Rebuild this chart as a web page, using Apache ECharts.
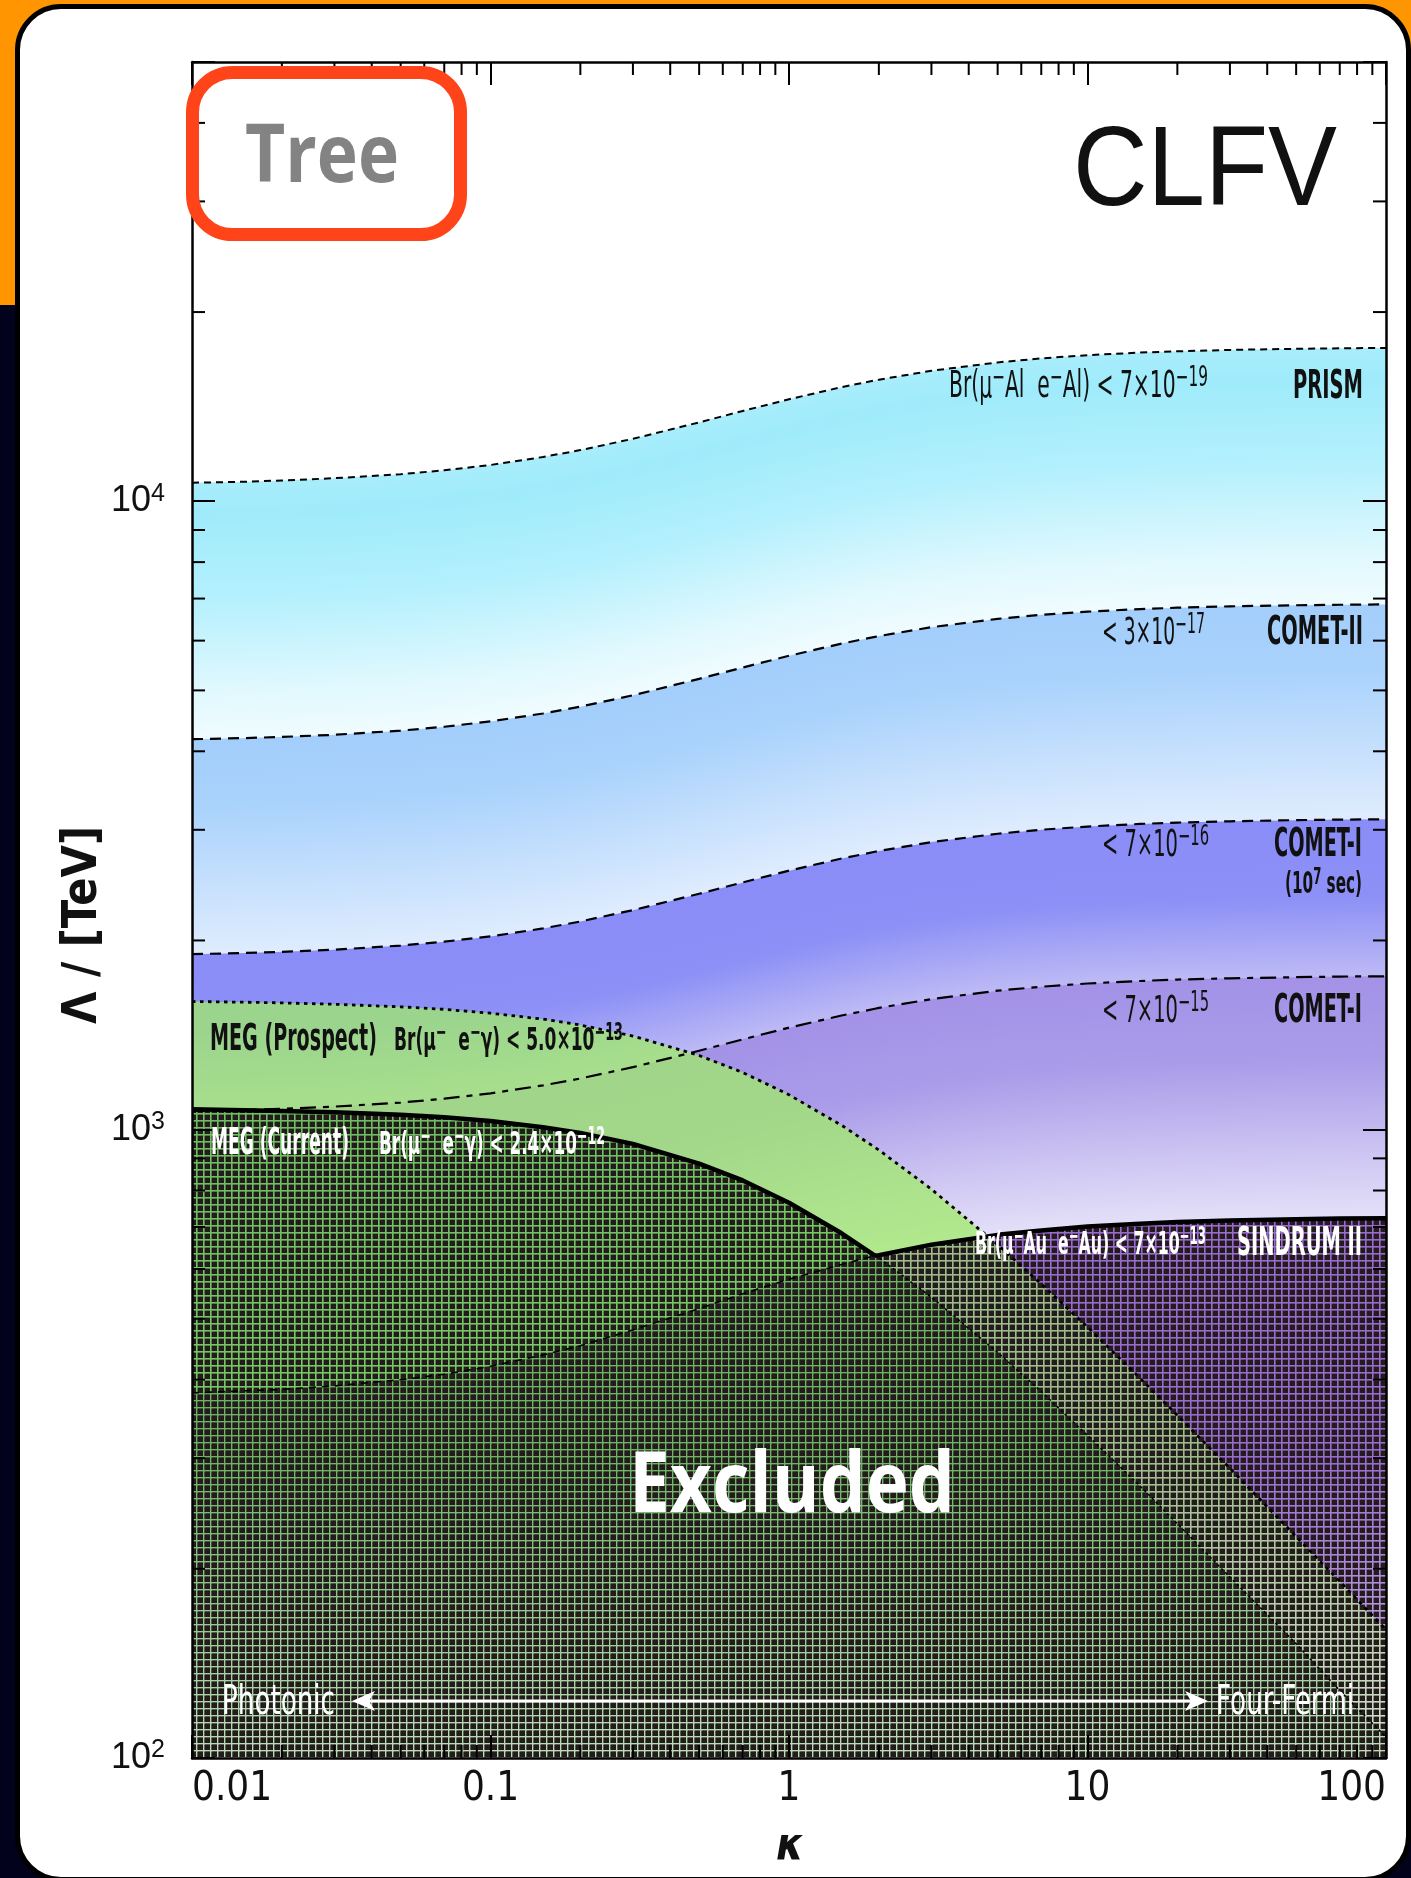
<!DOCTYPE html>
<html>
<head>
<meta charset="utf-8">
<script src="https://cdn.jsdelivr.net/npm/echarts@6/dist/echarts.min.js"></script>
<style>
html, body { margin: 0; padding: 0; }
body { width: 1411px; height: 1878px; position: relative; overflow: hidden; background: #03021c; }
#band { position: absolute; left: 0; top: 0; width: 1411px; height: 305px; background: #ff9500; }
#panel { position: absolute; left: 15px; top: 4px; width: 1396px; height: 1878px; box-sizing: border-box;
         background: #fff; border: 5px solid #000; border-radius: 46px; }
#chart { position: absolute; left: 0; top: 0; width: 1411px; height: 1878px; }
</style>
</head>
<body>
<div id="band"></div>
<div id="panel"></div>
<div id="chart"></div>
<script>
// kappa grid (ratio of four-fermion to photonic operators)
const kappa = [0.01, 0.015, 0.02, 0.03, 0.05, 0.07, 0.1, 0.15, 0.2, 0.3,
               0.5, 0.7, 1, 1.5, 1.94, 2, 3, 5, 7, 10,
               15, 20, 30, 50, 70, 100];

// Reach in Lambda [TeV] for each experiment along the kappa grid
const prismLimit = [10700, 10740, 10790, 10880, 11040, 11200, 11420, 11760, 12060, 12570,
                    13350, 13920, 14530, 15190, 15570, 15610, 16130, 16630, 16880, 17080,
                    17240, 17320, 17410, 17480, 17510, 17540];
const cometIILimit = [4181, 4198, 4216, 4249, 4314, 4376, 4463, 4594, 4711, 4911,
                      5216, 5437, 5676, 5935, 6084, 6101, 6303, 6499, 6595, 6672,
                      6736, 6769, 6803, 6831, 6843, 6852];
const cometI7Limit = [1902, 1910, 1918, 1933, 1963, 1991, 2030, 2090, 2144, 2235,
                      2373, 2474, 2583, 2700, 2768, 2776, 2868, 2957, 3001, 3036,
                      3065, 3080, 3095, 3108, 3114, 3118];
const cometILimit = [1070, 1075, 1079, 1088, 1104, 1120, 1142, 1176, 1206, 1257,
                     1335, 1392, 1453, 1519, 1557, 1562, 1613, 1664, 1688, 1708,
                     1724, 1733, 1741, 1748, 1752, 1754];
const sindrumLimit = [381, 384, 386, 391, 400, 408, 420, 438, 453, 480,
                      519, 548, 578, 610, 630, 631, 656, 680, 691, 701,
                      708, 713, 717, 720, 722, 723];
const megProspectLimit = [1599, 1595, 1591, 1583, 1568, 1554, 1532, 1499, 1467, 1409,
                          1312, 1233, 1136, 1016, 937, 928, 804, 656, 568, 485,
                          402, 351, 289, 225, 191, 160];
const megCurrentLimit = [1077, 1074, 1071, 1066, 1056, 1046, 1032, 1009, 988, 949,
                         883, 830, 765, 684, 630, 625, 541, 442, 383, 326,
                         271, 236, 194, 152, 128, 108];

// Axis ticks and labels
const xMajorTicks = [0.01, 0.1, 1, 10, 100];
const xTickLabels = ['0.01', '0.1', '1', '10', '100'];
const xMinorTicks = [0.02, 0.03, 0.04, 0.05, 0.06, 0.07, 0.08, 0.09,
                     0.2, 0.3, 0.4, 0.5, 0.6, 0.7, 0.8, 0.9,
                     2, 3, 4, 5, 6, 7, 8, 9,
                     20, 30, 40, 50, 60, 70, 80, 90];
const yMajorTicks = [100, 1000, 10000];
const yTickExponents = ['2', '3', '4'];
const yMinorTicks = [200, 300, 400, 500, 600, 700, 800, 900,
                     2000, 3000, 4000, 5000, 6000, 7000, 8000, 9000,
                     20000, 30000, 40000];

const X_MIN = 0.01, X_MAX = 100, Y_MIN = 100, Y_MAX = 50000;
const FADE_TOP = 300;               // excluded hatch lightens below this Lambda
const KINK = kappa.indexOf(1.94);   // where MEG (current) meets SINDRUM II

// ---------- font helpers ----------
const mctx = document.createElement('canvas').getContext('2d');
function hasFont(name) {
  const s = '0.01 abcdefghijklmnopqrstuvwxyz ABCDEFG';
  mctx.font = '40px monospace';
  const a = mctx.measureText(s).width;
  mctx.font = '40px "' + name + '", monospace';
  const b = mctx.measureText(s).width;
  return Math.abs(a - b) > 0.5;
}
const hasNarrow = hasFont('Liberation Sans Narrow');
const NARROW = hasNarrow ? '"Liberation Sans Narrow", Roboto, sans-serif'
                         : (hasFont('DejaVu Sans Condensed') ? '"DejaVu Sans Condensed", Roboto, sans-serif' : 'Roboto, sans-serif');
const HELV = '"Liberation Sans", Arial, Helvetica, sans-serif';
const WIDE = '"Open Sans", "Noto Sans", Roboto, sans-serif';

// Text with optional {s|...} superscripts, squeezed horizontally to a given width
function label(t, o) {
  const st = o.style || 'normal', wt = o.weight || 'normal', fam = o.family || NARROW;
  const font = st + ' ' + wt + ' ' + o.size + 'px ' + fam;
  const supSize = Math.round(o.size * 0.75);
  const supFont = st + ' ' + wt + ' ' + supSize + 'px ' + fam;
  let w = 0;
  const re = /\{s\|([^}]*)\}/g;
  let m, lastIdx = 0;
  while ((m = re.exec(t)) !== null) {
    mctx.font = font; w += mctx.measureText(t.slice(lastIdx, m.index)).width;
    mctx.font = supFont; w += mctx.measureText(m[1]).width;
    lastIdx = re.lastIndex;
  }
  mctx.font = font; w += mctx.measureText(t.slice(lastIdx)).width;
  const sx = o.width ? o.width / w : 1;
  const y = (o.base !== undefined) ? o.base - 0.29 * o.size : o.y;
  const fill = o.color || '#111';
  return {
    type: 'text', x: o.x, y: y, rotation: o.rotation || 0, scaleX: sx, z: 100, silent: true,
    style: {
      text: t, font: font, fontSize: o.size, fontFamily: fam, fontWeight: wt, fontStyle: st,
      fill: fill, align: o.align || 'left', verticalAlign: 'middle',
      lineHeight: Math.round(o.size * 1.25),
      rich: {
        s: {
          font: supFont, fontSize: supSize, fontFamily: fam, fontWeight: wt, fontStyle: st,
          fill: fill, verticalAlign: 'top', lineHeight: Math.round(supSize * 1.1)
        }
      }
    }
  };
}

// ---------- hatch pattern for excluded regions ----------
const hatch = document.createElement('canvas');
hatch.width = 7; hatch.height = 7;
(function () {
  const c = hatch.getContext('2d');
  c.fillStyle = '#241c1c';
  c.fillRect(1.6, 1.6, 5.4, 5.4);
})();

// ---------- series builders ----------
function pairs(vals) { return kappa.map((k, i) => [k, vals[i]]); }

function bandData(top, bottom) {
  const d = [];
  for (let i = 0; i < kappa.length - 1; i++) {
    d.push([kappa[i], top[i], bottom[i], kappa[i + 1], top[i + 1], bottom[i + 1]]);
  }
  return d;
}

// band between two curves, shaded across its thickness; filled down to the axis floor
function bandSeries(top, bottom, stops) {
  return {
    type: 'custom', silent: true, clip: true, z: 1,
    data: bandData(top, bottom),
    encode: { x: [0, 3], y: [1, 2, 4, 5] },
    renderItem: function (params, api) {
      const tl = api.coord([api.value(0), api.value(1)]);
      const tr = api.coord([api.value(3), api.value(4)]);
      const bl = api.coord([api.value(0), api.value(2)]);
      const br = api.coord([api.value(3), api.value(5)]);
      const floor = api.coord([api.value(0), Y_MIN])[1];
      const dx = tr[0] - tl[0], dy = tr[1] - tl[1], len = Math.hypot(dx, dy);
      const nx = -dy / len, ny = dx / len;
      const thick = ((bl[1] - tl[1]) + (br[1] - tr[1])) / 2 * ny;
      const fill = new echarts.graphic.LinearGradient(
        tl[0], tl[1], tl[0] + nx * thick, tl[1] + ny * thick, stops, true);
      return {
        type: 'polygon',
        shape: { points: [tl, [tr[0] + 1, tr[1]], [tr[0] + 1, floor], [tl[0], floor]] },
        style: { fill: fill }
      };
    }
  };
}

function areaSeries(vals, color, z) {
  return {
    type: 'line', data: pairs(vals), symbol: 'none', silent: true, z: z || 2,
    lineStyle: { width: 0, opacity: 0 },
    areaStyle: { origin: 'start', color: color, opacity: 1 }
  };
}

// whitening toward the bottom of the plot, under the hatch
function fadeSeries() {
  return {
    type: 'custom', silent: true, clip: true, z: 2,
    data: [[X_MIN, Y_MIN]],
    encode: { x: 0, y: 1 },
    renderItem: function (params, api) {
      const p0 = api.coord([X_MIN, FADE_TOP]);
      const p1 = api.coord([X_MAX, Y_MIN]);
      return {
        type: 'rect',
        shape: { x: p0[0], y: p0[1], width: p1[0] - p0[0], height: p1[1] - p0[1] },
        style: {
          fill: new echarts.graphic.LinearGradient(0, 0, 0, 1, [
            { offset: 0, color: 'rgba(255,255,255,0)' },
            { offset: 1, color: 'rgba(255,255,255,0.55)' }])
        }
      };
    }
  };
}

function curveSeries(vals, from, to, width, dash) {
  return {
    type: 'line', data: pairs(vals).slice(from, to + 1), symbol: 'none', silent: true, z: 6,
    lineStyle: { color: '#000', width: width, type: dash || 'solid', cap: 'butt', join: 'round' }
  };
}

function tickMarks(data, size, offset) {
  return {
    type: 'scatter', data: data, symbol: 'rect', symbolSize: size, symbolOffset: offset,
    itemStyle: { color: '#000', opacity: 1 }, silent: true, clip: false, z: 12
  };
}

const stops = (arr) => arr.map(([o, c]) => ({ offset: o, color: c }));
const cyanStops = stops([[0, '#a8edfc'], [0.12, '#9febfb'], [0.45, '#b4f0fd'], [0.8, '#dff8fe'], [1, '#f0fcff']]);
const blueStops = stops([[0, '#a3cefb'], [0.3, '#a9d2fc'], [1, '#dfecfe']]);
const periStops = stops([[0, '#8a8df7'], [0.5, '#8d90f6'], [1, '#bdbaf5']]);
const lavStops  = stops([[0, '#a392e7'], [0.35, '#aa9ce9'], [0.75, '#cfc7f3'], [1, '#e4e0f8']]);

const last = kappa.length - 1;

// ---------- axes ----------
function xAxisDef(pos, show) {
  return {
    type: 'log', logBase: 10, min: X_MIN, max: X_MAX, position: pos, z: 10,
    axisLine: { show: true, onZero: false, lineStyle: { color: '#000', width: 2.5 } },
    axisTick: { show: true, inside: true, length: 23, lineStyle: { color: '#000', width: 2 } },
    splitLine: { show: false }, minorTick: { show: false },
    axisLabel: {
      show: show, margin: 12, color: '#111', fontFamily: NARROW, fontSize: hasNarrow ? 44 : 40,
      alignMinLabel: 'left', alignMaxLabel: 'right', showMinLabel: true, showMaxLabel: true,
      formatter: function (v) {
        const i = xMajorTicks.findIndex(t => Math.abs(Math.log10(t) - Math.log10(v)) < 1e-6);
        return i < 0 ? '' : xTickLabels[i];
      }
    }
  };
}
function yAxisDef(pos, show) {
  return {
    type: 'log', logBase: 10, min: Y_MIN, max: Y_MAX, position: pos, z: 10,
    axisLine: { show: true, onZero: false, lineStyle: { color: '#000', width: 2.5 } },
    axisTick: { show: true, inside: true, length: 23, lineStyle: { color: '#000', width: 2 } },
    splitLine: { show: false }, minorTick: { show: false },
    axisLabel: {
      show: show, margin: 27, color: '#111', fontFamily: HELV, fontSize: 36, lineHeight: 40,
      showMinLabel: true, showMaxLabel: true,
      formatter: function (v) {
        const i = yMajorTicks.findIndex(t => Math.abs(Math.log10(t) - Math.log10(v)) < 1e-6);
        return i < 0 ? '' : '10{e|' + yTickExponents[i] + '}';
      },
      rich: { e: { fontFamily: HELV, fontSize: 25, lineHeight: 25, verticalAlign: 'top', color: '#111' } }
    }
  };
}

// ---------- page labels ----------
const graphics = [
  label('Br(μ{s|−}Al  e{s|−}Al) < 7×10{s|−19}', { x: 949, base: 398, size: 37, width: 259 }),
  label('PRISM', { x: 1363, base: 399, size: 39, weight: 'bold', align: 'right', width: 70 }),
  label('< 3×10{s|−17}', { x: 1102, base: 645, size: 37, width: 103 }),
  label('COMET-II', { x: 1363, base: 645, size: 39, weight: 'bold', align: 'right', width: 96 }),
  label('< 7×10{s|−16}', { x: 1102, base: 857, size: 37, width: 107 }),
  label('COMET-I', { x: 1362, base: 857, size: 39, weight: 'bold', align: 'right', width: 88 }),
  label('(10{s|7} sec)', { x: 1362, base: 894, size: 30, weight: 'bold', align: 'right', width: 77 }),
  label('< 7×10{s|−15}', { x: 1102, base: 1023, size: 37, width: 107 }),
  label('COMET-I', { x: 1362, base: 1023, size: 39, weight: 'bold', align: 'right', width: 88 }),
  label('MEG (Prospect)', { x: 210, base: 1051, size: 38, weight: 'bold', width: 167 }),
  label('Br(μ{s|−}  e{s|−}γ) < 5.0×10{s|−13}', { x: 394, base: 1051, size: 32, weight: 'bold', width: 229 }),
  label('MEG (Current)', { x: 211, base: 1155, size: 38, weight: 'bold', width: 138, color: '#fff' }),
  label('Br(μ{s|−}  e{s|−}γ) < 2.4×10{s|−12}', { x: 379, base: 1155, size: 32, weight: 'bold', width: 226, color: '#fff' }),
  label('Br(μ{s|−}Au  e{s|−}Au) < 7×10{s|−13}', { x: 975, base: 1255, size: 32, weight: 'bold', width: 231, color: '#fff' }),
  label('SINDRUM II', { x: 1362, base: 1256, size: 39, weight: 'bold', align: 'right', width: 125, color: '#fff' }),
  label('Excluded', { x: 792, base: 1512, size: 84, weight: 'bold', align: 'center', width: 326, color: '#fff', family: WIDE }),
  label('Photonic', { x: 222, base: 1715, size: 40, width: 113, color: '#fff' }),
  label('Four-Fermi', { x: 1216, base: 1715, size: 40, width: 138, color: '#fff' }),
  label('Λ / [TeV]', { x: 84, y: 925, size: 48, weight: 'bold', align: 'center', width: 198, rotation: Math.PI / 2 }),
  label('κ', { x: 790, y: 1848, size: 44, weight: 'bold', style: 'italic', align: 'center' }),
  label('CLFV', { x: 1073, base: 207, size: 114, width: 264, family: HELV }),
  label('Tree', { x: 245, base: 182, size: 80, weight: 'bold', width: 154, color: '#838383', family: WIDE }),
  {
    type: 'rect', z: 99, silent: true,
    shape: { x: 192.5, y: 72.5, width: 268, height: 162, r: 40 },
    style: { fill: 'rgba(0,0,0,0)', stroke: '#ff4419', lineWidth: 13 }
  },
  // Photonic <-> Four-Fermi arrow
  { type: 'line', z: 99, silent: true, shape: { x1: 366, y1: 1701, x2: 1195, y2: 1701 },
    style: { stroke: '#fff', lineWidth: 3 } },
  { type: 'polygon', z: 99, silent: true,
    shape: { points: [[352, 1701], [375, 1691], [369, 1701], [375, 1711]] }, style: { fill: '#fff' } },
  { type: 'polygon', z: 99, silent: true,
    shape: { points: [[1208, 1701], [1185, 1691], [1191, 1701], [1185, 1711]] }, style: { fill: '#fff' } }
];

// ---------- chart ----------
const chart = echarts.init(document.getElementById('chart'), null, { renderer: 'canvas' });
chart.setOption({
  animation: false,
  backgroundColor: 'transparent',
  grid: { left: 192, top: 62, width: 1194, height: 1696, containLabel: false },
  xAxis: [xAxisDef('bottom', true), xAxisDef('top', false)],
  yAxis: [yAxisDef('left', true), yAxisDef('right', false)],
  series: [
    // shaded reach bands
    bandSeries(prismLimit, cometIILimit, cyanStops),
    bandSeries(cometIILimit, cometI7Limit, blueStops),
    bandSeries(cometI7Limit, cometILimit, periStops),
    bandSeries(cometILimit, sindrumLimit, lavStops),
    // excluded / prospect fills
    areaSeries(sindrumLimit, '#9b6cd4', 2),
    areaSeries(megProspectLimit, 'rgba(160,235,105,0.75)', 2),
    areaSeries(sindrumLimit, 'rgba(150,110,190,0.15)', 2),
    areaSeries(megCurrentLimit, 'rgba(60,170,60,0.5)', 2),
    fadeSeries(),
    areaSeries(megCurrentLimit, { image: hatch, repeat: 'repeat' }, 3),
    areaSeries(sindrumLimit, { image: hatch, repeat: 'repeat' }, 3),
    // boundary curves
    curveSeries(prismLimit, 0, last, 2, [7, 5]),
    curveSeries(cometIILimit, 0, last, 2.2, [11, 7]),
    curveSeries(cometI7Limit, 0, last, 2.2, [11, 7]),
    curveSeries(cometILimit, 0, last, 2.2, [16, 7, 6, 7]),
    curveSeries(megProspectLimit, 0, last, 2.8, [3.5, 4.5]),
    curveSeries(megCurrentLimit, KINK, last, 1.6, [2.5, 3]),
    curveSeries(sindrumLimit, 0, KINK, 1.6, [7, 6]),
    curveSeries(megCurrentLimit, 0, KINK, 4.5),
    curveSeries(sindrumLimit, KINK, last, 4.5),
    // minor log ticks on all four sides
    tickMarks(xMinorTicks.map(v => [v, Y_MIN]), [2, 13], [0, -6.5]),
    tickMarks(xMinorTicks.map(v => [v, Y_MAX]), [2, 13], [0, 6.5]),
    tickMarks(yMinorTicks.map(v => [X_MIN, v]), [13, 2], [6.5, 0]),
    tickMarks(yMinorTicks.map(v => [X_MAX, v]), [13, 2], [-6.5, 0])
  ],
  graphic: graphics
});
</script>
</body>
</html>
